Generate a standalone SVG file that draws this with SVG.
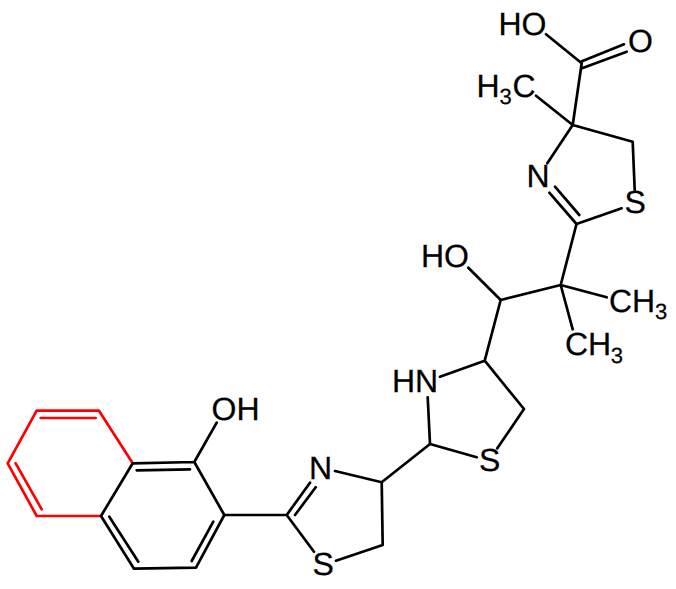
<svg xmlns="http://www.w3.org/2000/svg" width="676" height="589" viewBox="0 0 676 589">
<style>
.b{fill:none;stroke:#000;stroke-width:2.7;stroke-linecap:round;stroke-linejoin:round}
.r{fill:none;stroke:#f00;stroke-width:2.7;stroke-linecap:round;stroke-linejoin:round}
text{font-family:"Liberation Sans",Arial,sans-serif;font-size:32px;fill:#000;stroke:#000;stroke-width:.25px;text-rendering:geometricPrecision}
.s{font-size:22px}
</style>
<rect width="676" height="589" fill="#fff"/>
<g id="connectors">
<path class="r" d="M132.7 463.3L99 410.7H36.7L7.7 463.3L36.7 516L101 516M40.7 418H95.7M15.7 463.3L41.7 509.3"/>
<path class="b" d="M132.7 463.3L194.3 462L224.3 515L196 567.7L134 568.7L101 516L132.7 463.3M136.7 470.3L190 469.3M213.3 521.7L191.7 561M138.3 561.7L109.3 516.7M194.3 462L216.7 422.7"/>
<path class="b" d="M224.3 515H286.7L310 482.7M295 515L315.7 487.3M335 471L381.7 482.3L382.7 545L336 560.7M286.7 515L314 551.7M381.7 482.3L430 444"/>
<path class="b" d="M427.7 397.3L430 444L476.7 457.3M497.3 448.3L524 409L484.7 360.7L440 376.7M484.7 360.7L500.7 300L468.3 267.7M500.7 300L560.7 285L606.7 297.3M560.7 285L572.7 329.3M560.7 285L576.5 224"/>
<path class="b" d="M621.7 208.3L576.5 224L549.3 192.7M579.3 215L555 186.7M547.3 163.3L572.7 125L632.7 141.7L634.7 190M572.7 125L536 95.7M572.7 125L581.7 63.3L546 34.3M580.7 61.7L624 44.3M582.7 68L626.7 51.7"/>
</g>
<g id="oh-naphthol"><text x="211.5" y="420">OH</text></g>
<g id="n-thiazoline-1"><text x="309" y="479">N</text></g>
<g id="s-thiazoline-1"><text x="312.5" y="575">S</text></g>
<g id="hn-thiazolidine"><text x="392" y="392">HN</text></g>
<g id="s-thiazolidine"><text x="479" y="470.7">S</text></g>
<g id="oh-alcohol"><text x="421" y="267.3">HO</text></g>
<g id="ch3-a"><text x="609" y="311.7">CH</text><text class="s" x="655" y="319">3</text></g>
<g id="ch3-b"><text x="565" y="355">CH</text><text class="s" x="610.7" y="362.7">3</text></g>
<g id="s-thiazoline-2"><text x="624.5" y="213.3">S</text></g>
<g id="n-thiazoline-2"><text x="526.5" y="187.3">N</text></g>
<g id="h3c"><text x="476.5" y="96.7">H</text><text class="s" x="499.5" y="104">3</text><text x="512.5" y="96.7">C</text></g>
<g id="oh-acid"><text x="498.5" y="35">HO</text></g>
<g id="o-acid"><text x="628" y="52.3">O</text></g>
</svg>
